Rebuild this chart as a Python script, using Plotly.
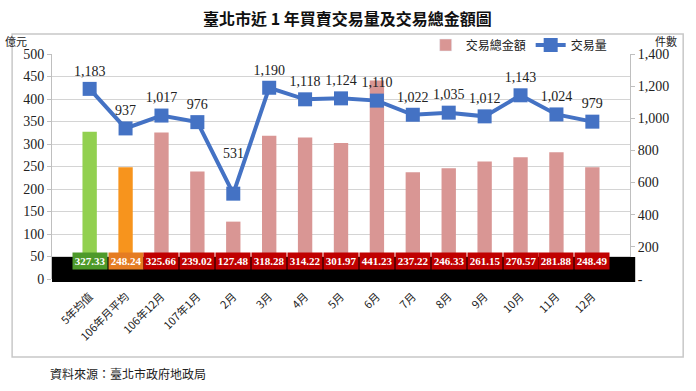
import plotly.graph_objects as go

categories = ["5年均值", "106年月平均", "106年12月", "107年1月", "2月", "3月", "4月",
              "5月", "6月", "7月", "8月", "9月", "10月", "11月", "12月"]
amount = [327.33, 248.24, 325.66, 239.02, 127.48, 318.28, 314.22, 301.97,
          441.23, 237.22, 246.33, 261.15, 270.57, 281.88, 248.49]
volume = [1183, 937, 1017, 976, 531, 1190, 1118, 1124, 1110, 1022, 1035, 1012, 1143, 1024, 979]
bar_colors = ["#92d050", "#f7941d"] + ["#d99694"] * 13
label_bg = ["#4e9a2a", "#e57c22"] + ["#c00000"] * 13
right_tickvals = [0, 200, 400, 600, 800, 1000, 1200, 1400]
right_ticktext = ["-", "200", "400", "600", "800", "1,000", "1,200", "1,400"]

SERIF = "Liberation Serif, Noto Sans CJK TC"
CJK = "Noto Sans CJK TC, Liberation Serif"

raised = {4}
line_text = ["" if i in raised else f"{v:,}" for i, v in enumerate(volume)]

fig = go.Figure()
fig.add_trace(go.Bar(
    x=categories, y=amount, name="交易總金額",
    marker=dict(color=bar_colors, line=dict(width=0)),
    width=0.4, yaxis="y", showlegend=False,
))
fig.add_trace(go.Bar(x=[None], y=[None], name="交易總金額", marker_color="#d99694"))
fig.add_trace(go.Scatter(
    x=categories, y=volume, name="交易量", yaxis="y2",
    mode="lines+markers+text",
    line=dict(color="#4472c4", width=4),
    marker=dict(symbol="square", size=14, color="#4472c4"),
    text=line_text, textposition="top center",
    textfont=dict(family=SERIF, size=14, color="#222"),
))

shapes = [
    dict(type="rect", xref="paper", yref="paper", x0=-0.069, x1=1.092, y0=-0.347, y1=1.089,
         line=dict(color="#c8c8c8", width=1.5), layer="below"),
    dict(type="rect", xref="paper", yref="paper", x0=0.0, x1=1.009, y0=-0.013, y1=0.098,
         fillcolor="black", line=dict(width=0), layer="above"),
]

annotations = []
for c, v, bg in zip(categories, amount, label_bg):
    annotations.append(dict(
        x=c, y=0.042, xref="x", yref="paper", text=f"<b>{v:.2f}</b>", showarrow=False,
        bgcolor=bg, width=34, height=16, borderpad=0,
        font=dict(family=SERIF, size=11, color="white"),
    ))
for i in raised:
    annotations.append(dict(
        x=categories[i], y=volume[i], xref="x", yref="y2", text=f"{volume[i]:,}",
        showarrow=False, yshift=40, font=dict(family=SERIF, size=14, color="#222"),
    ))
annotations += [
    dict(text="<b>臺北市近 1 年買賣交易量及交易總金額圖</b>", xref="paper", yref="paper",
         x=0.511, y=1.16, yanchor="middle", xanchor="center", showarrow=False,
         font=dict(family=CJK, size=16, color="#111")),
    dict(text="億元", xref="paper", yref="paper", x=-0.04, y=1.058, showarrow=False,
         xanchor="right", yanchor="middle", font=dict(family=CJK, size=11, color="#222")),
    dict(text="件數", xref="paper", yref="paper", x=1.04, y=1.058, showarrow=False,
         xanchor="left", yanchor="middle", font=dict(family=CJK, size=11, color="#222")),
    dict(text="資料來源：臺北市政府地政局", xref="paper", yref="paper", x=-0.007, y=-0.42,
         showarrow=False, xanchor="left", yanchor="middle",
         font=dict(family=CJK, size=12, color="#222")),
]

fig.update_layout(
    width=696, height=391,
    margin=dict(l=52, r=66, t=54, b=112, autoexpand=False),
    paper_bgcolor="white", plot_bgcolor="white",
    font=dict(family=SERIF, size=13, color="#222"),
    barmode="overlay",
    shapes=shapes, annotations=annotations,
    legend=dict(orientation="h", x=0.97, xanchor="right", y=1.04, yanchor="middle",
                font=dict(family=CJK, size=12, color="#222"), bgcolor="rgba(0,0,0,0)",
                itemwidth=30, tracegroupgap=0),
    xaxis=dict(type="category", tickangle=-45, tickfont=dict(family=CJK, size=11),
               showgrid=False, showline=False, ticks="", ticklabelstandoff=8),
    yaxis=dict(range=[0, 500], dtick=50, showgrid=True, gridcolor="#d4d4d4", gridwidth=1,
               showline=True, linecolor="#bfbfbf", ticks="outside", ticklen=4,
               tickcolor="#bfbfbf", tickfont=dict(family=SERIF, size=14), zeroline=False),
    yaxis2=dict(range=[0, 1400], overlaying="y", side="right", tickvals=right_tickvals,
                ticktext=right_ticktext, showgrid=False, showline=True, linecolor="#bfbfbf",
                ticks="outside", ticklen=4, tickcolor="#bfbfbf",
                tickfont=dict(family=SERIF, size=14), zeroline=False),
)

fig.write_html("out.html", config={"displayModeBar": False},
               post_script="document.body.style.margin='0';document.body.style.overflow='hidden';")
